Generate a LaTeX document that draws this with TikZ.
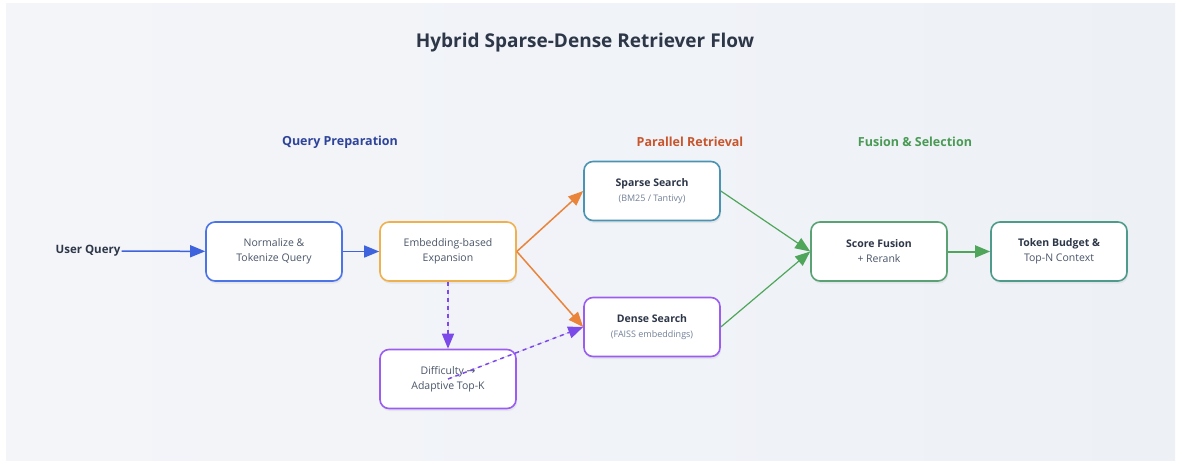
\documentclass[tikz,border=0pt]{standalone}
\usepackage{fontspec}
\setmainfont{Open Sans}
\newfontfamily\symfont{DejaVu Sans}
\usetikzlibrary{arrows.meta,shadows}

\definecolor{bgA}{HTML}{F4F5F9}
\definecolor{bgB}{HTML}{EDF1F6}
\definecolor{ink}{HTML}{2D3748}
\definecolor{txtgray}{HTML}{4A5568}
\definecolor{subgray}{HTML}{718096}
\definecolor{blueL}{HTML}{3E63DD}
\definecolor{blueB}{HTML}{4A74E8}
\definecolor{orangeB}{HTML}{EFB04E}
\definecolor{orangeL}{HTML}{E9843A}
\definecolor{tealB}{HTML}{4A93B3}
\definecolor{purpleB}{HTML}{9B5CF2}
\definecolor{purpleL}{HTML}{7C4AE8}
\definecolor{greenB}{HTML}{5AA274}
\definecolor{greenL}{HTML}{4FA65A}
\definecolor{tealG}{HTML}{4E9B8C}
\definecolor{navyT}{HTML}{2E449A}
\definecolor{rustT}{HTML}{C8552C}
\definecolor{greenT}{HTML}{4A9A55}

\tikzset{
  box/.style={draw, line width=1.6pt, rounded corners=9pt, fill=white,
    minimum width=136pt, minimum height=59pt, align=center,
    font=\fontsize{10.5}{15}\selectfont, text=txtgray,
    drop shadow={opacity=0.12, shadow xshift=1pt, shadow yshift=-2.5pt}},
  section/.style={font=\bfseries\fontsize{12.5}{15}\selectfont},
  tip/.style={-{Triangle[length=15pt,width=12pt]}},
  flow/.style={tip, line width=1.5pt},
  dashflow/.style={tip, line width=1.5pt, dash pattern=on 4pt off 4pt, draw=purpleL, fill=purpleL},
}

\begin{document}
\begin{tikzpicture}[x=1pt,y=-1pt]
\useasboundingbox (0,0) rectangle (1181,463);
\fill[white] (0,0) rectangle (1181,463);
\shade[left color=bgA, right color=bgB] (6,3) rectangle (1175,460);

% title and section headings
\node[font=\bfseries\fontsize{19}{22}\selectfont, text=ink] (title) at (585,43) {Hybrid Sparse-Dense Retriever Flow};
\node[section, text=navyT] (secQ) at (340,142) {Query Preparation};
\node[section, text=rustT] (secP) at (690,142) {Parallel Retrieval};
\node[section, text=greenT] (secF) at (915,142) {Fusion \& Selection};

% input
\node[font=\bfseries\fontsize{11.5}{14}\selectfont, text=ink, inner sep=1pt] (user) at (88,251) {User Query};

% process boxes
\node[box, draw=blueB] (norm) at (274,251.5) {Normalize \&\\Tokenize Query};
\node[box, draw=orangeB] (embed) at (448,251.5) {Embedding-based\\Expansion};
\node[box, draw=purpleB] (diff) at (448,379) {Difficulty {\symfont →}\\Adaptive Top-K};
\node[box, draw=tealB] (sparse) at (652,191) {\textbf{\textcolor{ink}{Sparse Search}}\\{\fontsize{9}{10}\selectfont\color{subgray}(BM25 / Tantivy)}};
\node[box, draw=purpleB] (dense) at (652,327) {\textbf{\textcolor{ink}{Dense Search}}\\{\fontsize{9}{10}\selectfont\color{subgray}(FAISS embeddings)}};
\node[box, draw=greenB] (fusion) at (879,251.5) {\textbf{\textcolor{ink}{Score Fusion}}\\+ Rerank};
\node[box, draw=tealG] (token) at (1059,251.5) {\textbf{\textcolor{ink}{Token Budget \&}}\\Top-N Context};

% connectors
\draw[flow, blueL] (user) -- (norm);
\draw[flow, blueL] (norm) -- (embed);
\draw[flow, orangeL] (embed.east) -- (sparse.west);
\draw[flow, orangeL] (embed.east) -- (dense.west);
\draw[dashflow] (embed) -- (diff);
\draw[dashflow] (diff.center) -- (dense.west);
\draw[tip, line width=1.2pt, greenL] (sparse.east) -- (fusion.west);
\draw[tip, line width=1.2pt, greenL] (dense.east) -- (fusion.west);
\draw[flow, line width=2pt, greenL] (fusion) -- (token);
\end{tikzpicture}
\end{document}
